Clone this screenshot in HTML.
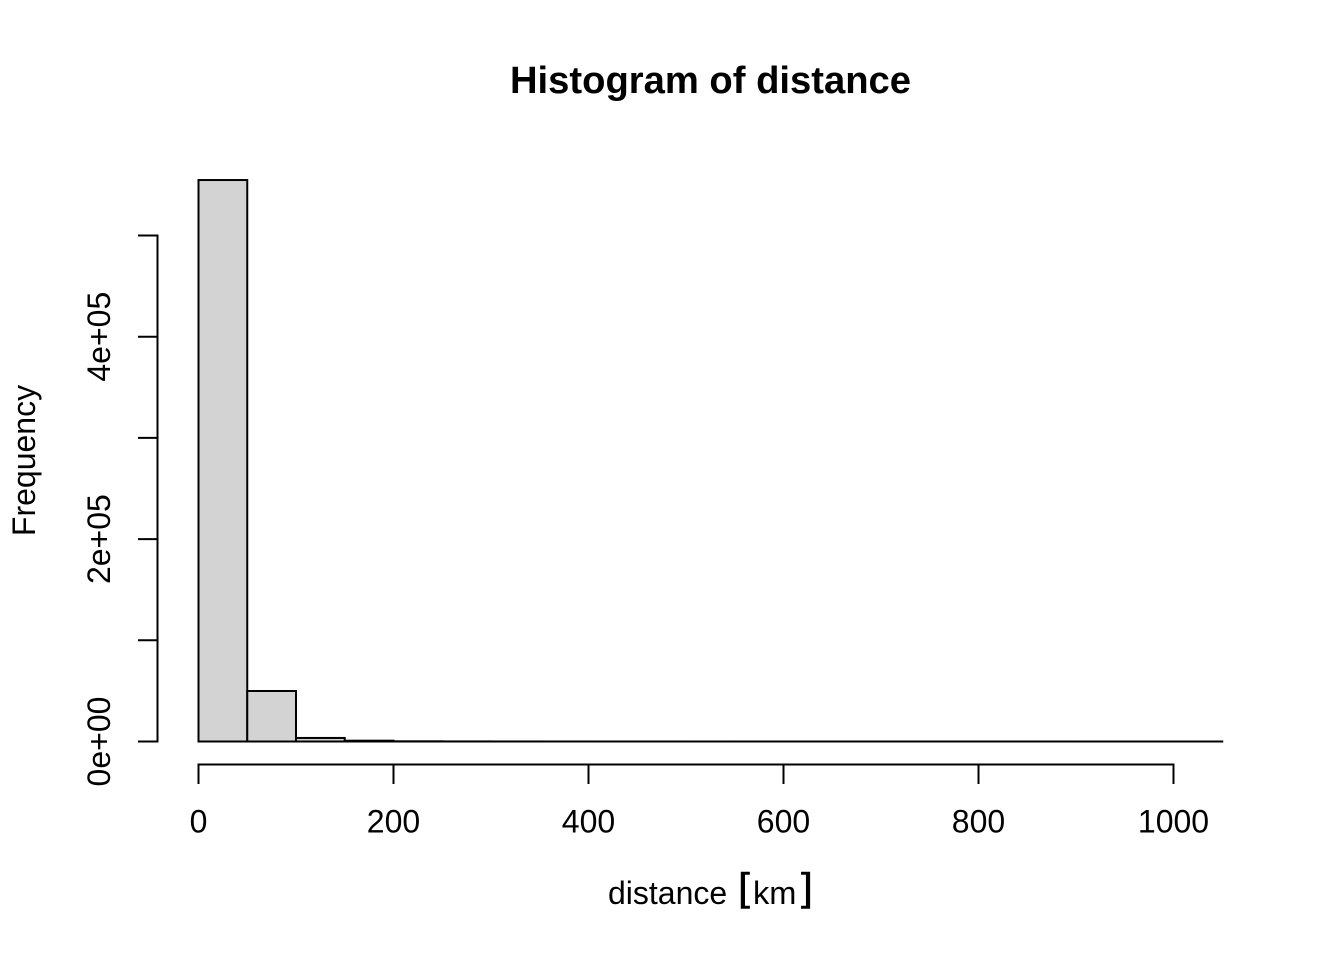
<!DOCTYPE html>
<html lang="en">
<head>
<meta charset="utf-8">
<title>Histogram of distance</title>
<style>
html,body{margin:0;padding:0;background:#fff;}
svg{display:block;}
text{font-family:"Liberation Sans",sans-serif;fill:#000;}
</style>
</head>
<body>
<svg id="chart" xmlns="http://www.w3.org/2000/svg" width="1344" height="960" viewBox="0 0 1344 960">
<rect x="0" y="0" width="1344" height="960" fill="#fff"/>
<text x="710.5" y="93" font-size="38.2" font-weight="700" text-anchor="middle">Histogram of distance</text>
<g id="bars"></g>
<g id="x-axis"></g>
<g id="y-axis"></g>
<text x="608" y="904" font-size="32">distance</text>
<text transform="translate(738 900.5) scale(1.1 1)" font-size="39" stroke="#000" stroke-width="0.5">[</text>
<text x="753" y="904" font-size="32.6">km</text>
<text transform="translate(801 900.5) scale(1.1 1)" font-size="39" stroke="#000" stroke-width="0.5">]</text>
<text transform="translate(35 460.5) rotate(-90)" font-size="32" text-anchor="middle">Frequency</text>
</svg>
<script>
const binWidth = 50;
const binCounts = [554800, 49900, 3500, 800, 200, 80, 40, 20, 10, 8, 6, 5, 4, 3, 3, 2, 2, 2, 1, 1, 1];
const xTicks = [0, 200, 400, 600, 800, 1000];
const xTickLabels = ["0", "200", "400", "600", "800", "1000"];
const yTicks = [0, 100000, 200000, 300000, 400000, 500000];
const yTickLabels = ["0e+00", "", "2e+05", "", "4e+05", ""];

const SVG_NS = "http://www.w3.org/2000/svg";
function xScale(v) { return 198.5 + v * 0.975; }
function yScale(v) { return 741.5 - v * (506 / 500000); }
function make(tag, attrs, parent) {
  const el = document.createElementNS(SVG_NS, tag);
  for (const k in attrs) el.setAttribute(k, attrs[k]);
  parent.appendChild(el);
  return el;
}
const stroke = { stroke: "#000", "stroke-width": 2, fill: "none" };

const barsGroup = document.getElementById("bars");
binCounts.forEach(function (count, i) {
  const x0 = xScale(i * binWidth);
  const x1 = xScale((i + 1) * binWidth);
  const y = yScale(count);
  const bar = make("rect", { x: x0, y: y, width: x1 - x0, height: yScale(0) - y, fill: "#d3d3d3", stroke: "#000", "stroke-width": 2 }, barsGroup);
  
  
});

const xAxis = document.getElementById("x-axis");
const xLine = make("line", Object.assign({ x1: xScale(xTicks[0]), x2: xScale(xTicks[xTicks.length - 1]), y1: 764.5, y2: 764.5, "stroke-linecap": "square" }, stroke), xAxis);


xTicks.forEach(function (t, i) {
  const mark = make("line", Object.assign({ x1: xScale(t), x2: xScale(t), y1: 764.5, y2: 784 }, stroke), xAxis);
  
  
  const label = make("text", { x: xScale(t), y: 832.5, "font-size": 32, "text-anchor": "middle" }, xAxis);
  label.textContent = xTickLabels[i];
  
  
});

const yAxis = document.getElementById("y-axis");
const yLine = make("line", Object.assign({ x1: 157.5, x2: 157.5, y1: yScale(yTicks[0]), y2: yScale(yTicks[yTicks.length - 1]), "stroke-linecap": "square" }, stroke), yAxis);


yTicks.forEach(function (t, i) {
  const mark = make("line", Object.assign({ x1: 138, x2: 157.5, y1: yScale(t), y2: yScale(t) }, stroke), yAxis);
  
  
  if (yTickLabels[i]) {
    const label = make("text", { transform: "translate(110 " + yScale(t) + ") rotate(-90)", "font-size": 32, "text-anchor": "middle" }, yAxis);
    label.textContent = yTickLabels[i];
    
    
  }
});
</script>
</body>
</html>
